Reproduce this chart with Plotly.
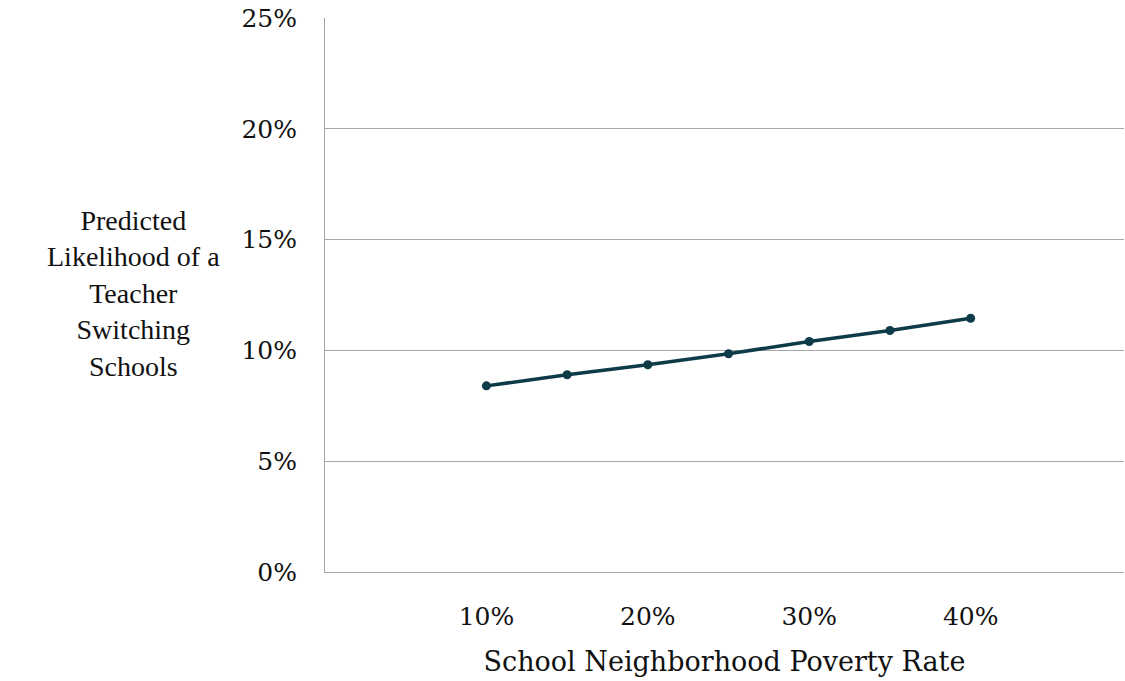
import plotly.graph_objects as go

# Neighborhood poverty rate (%) and predicted probability of switching schools (%)
poverty_rate = [10, 15, 20, 25, 30, 35, 40]
switch_likelihood = [8.4, 8.9, 9.35, 9.85, 10.4, 10.9, 11.45]

x_ticks = [10, 20, 30, 40]
x_tick_labels = ["10%", "20%", "30%", "40%"]
y_ticks = [0, 5, 10, 15, 20, 25]
y_tick_labels = ["0%", "5%", "10%", "15%", "20%", "25%"]

FONT = "Georgia, 'DejaVu Serif', 'Liberation Serif', serif"
TITLE_FONT = "Georgia, 'Liberation Serif', serif"
LINE_COLOR = "#0d3b48"
GRID_COLOR = "#a6a6a6"

fig = go.Figure()
fig.add_trace(go.Scatter(
    x=poverty_rate,
    y=switch_likelihood,
    mode="lines+markers",
    line=dict(color=LINE_COLOR, width=3.5),
    marker=dict(color=LINE_COLOR, size=9),
    showlegend=False,
    hoverinfo="skip",
))

fig.update_layout(
    width=1125,
    height=681,
    margin=dict(l=325, r=1, t=18, b=109),
    paper_bgcolor="white",
    plot_bgcolor="white",
    font=dict(family=FONT, size=24, color="#111111"),
    xaxis=dict(
        range=[0, 49.5],
        tickvals=x_ticks,
        ticktext=x_tick_labels,
        showgrid=False,
        zeroline=False,
        showline=True,
        linecolor=GRID_COLOR,
        linewidth=1,
        ticks="",
        ticklabelstandoff=22,
        tickfont=dict(size=25),
        title=dict(text="School Neighborhood Poverty Rate",
                   font=dict(size=27), standoff=22),
    ),
    yaxis=dict(
        range=[0, 25],
        tickvals=y_ticks,
        ticktext=y_tick_labels,
        showgrid=True,
        gridcolor=GRID_COLOR,
        gridwidth=1,
        zeroline=False,
        showline=True,
        linecolor=GRID_COLOR,
        linewidth=1,
        ticks="",
        ticklabelstandoff=22,
        tickfont=dict(size=25),
    ),
    annotations=[dict(
        text="Predicted<br>Likelihood of a<br>Teacher<br>Switching<br>Schools",
        xref="paper", yref="paper",
        x=-0.24, y=0.503,
        xanchor="center", yanchor="middle",
        showarrow=False,
        align="center",
        font=dict(family=TITLE_FONT, size=28, color="#111111"),
    )],
)

fig.write_html("out.html")
